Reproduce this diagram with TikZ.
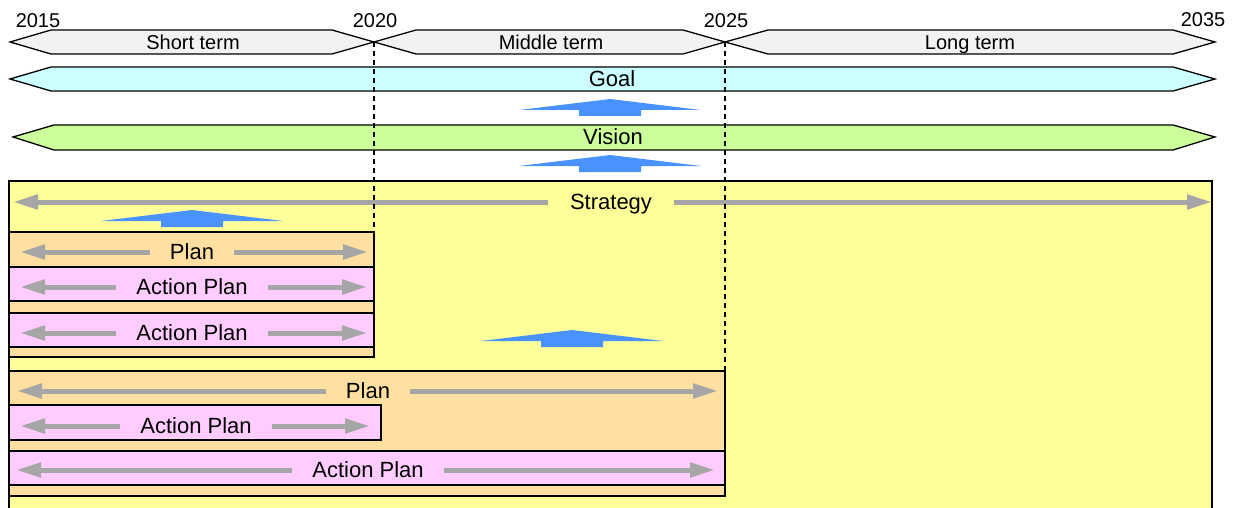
\documentclass[tikz,border=0pt]{standalone}
\usepackage{fontspec}
\setmainfont{Liberation Sans}
\usetikzlibrary{arrows.meta}
\definecolor{tlgray}{HTML}{F2F2F2}
\definecolor{goalc}{HTML}{CCFFFF}
\definecolor{visionc}{HTML}{CCFF99}
\definecolor{stratc}{HTML}{FFFF99}
\definecolor{planc}{HTML}{FFE0A0}
\definecolor{actc}{HTML}{FFCCFF}
\definecolor{bluec}{HTML}{4A92FF}
\definecolor{arrc}{HTML}{A6A6A6}
\tikzset{
  outl/.style={draw=black, line width=1.3pt, line join=miter},
  garrow/.style={draw=arrc, line width=5pt, -{Triangle[length=25pt,width=14pt]}},
  lbl/.style={font=\fontsize{22}{26}\selectfont, inner xsep=20pt, inner ysep=0pt, text height=15.8pt, text depth=0pt},
  tlbl/.style={font=\fontsize{20}{24}\selectfont, inner sep=0pt, text height=14.3pt, text depth=0pt},
  dline/.style={draw=black, line width=1.3pt, dash pattern=on 5pt off 4pt},
}
\newcommand\bluearrow[2]{%
  \fill[bluec] (#1,#2) -- ++(91,11) -- ++(-60,0) -- ++(0,6) -- ++(-62,0) -- ++(0,-6) -- ++(-60,0) -- cycle;}
\begin{document}
\begin{tikzpicture}[x=1pt,y=-1pt]
\useasboundingbox (0,0) rectangle (1233,508);
\clip (0,0) rectangle (1233,508);
% timeline
\draw[outl, fill=tlgray] (10,42) -- (51,30) -- (332,30) -- (374,42) -- (332,54) -- (51,54) -- cycle;
\draw[outl, fill=tlgray] (374,42) -- (416,30) -- (683,30) -- (725,42) -- (683,54) -- (416,54) -- cycle;
\draw[outl, fill=tlgray] (725,42) -- (768,30) -- (1173,30) -- (1215,42) -- (1173,54) -- (768,54) -- cycle;
\node[tlbl] (st) at (193,42) {Short term};
\node[tlbl] (mt) at (551,42) {Middle term};
\node[tlbl] (lt) at (970,42) {Long term};
\node[tlbl] (y15) at (38,20) {2015};
\node[tlbl] (y20) at (375,20) {2020};
\node[tlbl] (y25) at (726,20) {2025};
\node[tlbl] (y35) at (1203,19) {2035};
% goal & vision
\draw[outl, fill=goalc] (10,79) -- (51,67) -- (1173,67) -- (1215,79) -- (1173,91) -- (51,91) -- cycle;
\node[lbl] (goal) at (612,79) {Goal};
\draw[outl, fill=visionc] (13,137) -- (54,125) -- (1173,125) -- (1215,137) -- (1173,150) -- (54,150) -- cycle;
\node[lbl] (vision) at (613,137) {Vision};
\bluearrow{610}{99}
\bluearrow{610}{155}
% strategy
\draw[outl, fill=stratc] (9,181) rectangle (1212,520);
\node[lbl, inner xsep=22pt] (strat) at (611,202) {Strategy};
\coordinate (sL) at (13,202); \coordinate (sR) at (1212,202);
\draw[garrow] (strat.west) -- (sL);
\draw[garrow] (strat.east) -- (sR);
\bluearrow{192}{210}
\bluearrow{572}{330}
% plan 1
\draw[outl, fill=planc] (9,232) rectangle (374,357);
\draw[outl, fill=actc] (9,267) rectangle (374,301);
\draw[outl, fill=actc] (9,313) rectangle (374,347);
\node[lbl] (p1) at (192,252) {Plan};
\coordinate (p1L) at (20,252); \coordinate (p1R) at (368,252);
\draw[garrow] (p1.west) -- (p1L); \draw[garrow] (p1.east) -- (p1R);
\node[lbl] (a1) at (192,287) {Action Plan};
\coordinate (a1L) at (20,287); \coordinate (a1R) at (367,287);
\draw[garrow] (a1.west) -- (a1L); \draw[garrow] (a1.east) -- (a1R);
\node[lbl] (a2) at (192,333) {Action Plan};
\coordinate (a2L) at (20,333); \coordinate (a2R) at (367,333);
\draw[garrow] (a2.west) -- (a2L); \draw[garrow] (a2.east) -- (a2R);
% plan 2
\draw[outl, fill=planc] (9,371) rectangle (725,496);
\draw[outl, fill=actc] (9,405) rectangle (381,440);
\draw[outl, fill=actc] (9,451) rectangle (725,485);
\node[lbl] (p2) at (368,391) {Plan};
\coordinate (p2L) at (17,391); \coordinate (p2R) at (718,391);
\draw[garrow] (p2.west) -- (p2L); \draw[garrow] (p2.east) -- (p2R);
\node[lbl] (a3) at (196,426) {Action Plan};
\coordinate (a3L) at (20,426); \coordinate (a3R) at (370,426);
\draw[garrow] (a3.west) -- (a3L); \draw[garrow] (a3.east) -- (a3R);
\node[lbl] (a4) at (368,470) {Action Plan};
\coordinate (a4L) at (16,470); \coordinate (a4R) at (715,470);
\draw[garrow] (a4.west) -- (a4L); \draw[garrow] (a4.east) -- (a4R);
% dashed lines
\coordinate (d1t) at (374,42); \coordinate (d1b) at (374,232);
\coordinate (d2t) at (725,42); \coordinate (d2b) at (725,371);
\draw[dline] (d1t) -- (d1b);
\draw[dline] (d2t) -- (d2b);
\end{tikzpicture}
\end{document}
